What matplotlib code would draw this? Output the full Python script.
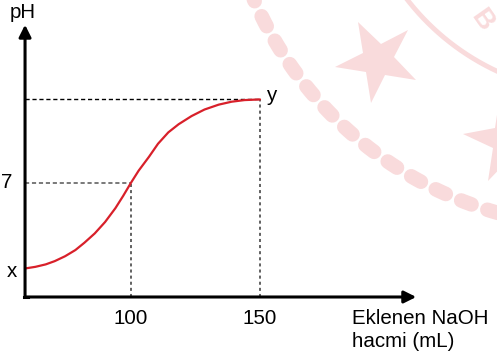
import numpy as np
import matplotlib
matplotlib.use("Agg")
import matplotlib.pyplot as plt
from matplotlib.markers import MarkerStyle
from matplotlib.transforms import Affine2D

plt.rcParams['font.family'] = ['Liberation Sans', 'DejaVu Sans']
plt.rcParams['lines.scale_dashes'] = False

# titration curve
naoh_ml = [59, 63, 67, 70.5, 74.5, 78.5, 82, 86, 90, 94, 97, 100, 103, 107,
           110.5, 114.5, 118.5, 123.5, 128.5, 134, 139, 144, 150]
ph_vals = [1.75, 1.85, 2.0, 2.2, 2.5, 2.88, 3.33, 3.9, 4.6, 5.45, 6.2, 7.0, 7.75, 8.6,
           9.4, 10.1, 10.6, 11.1, 11.5, 11.8, 11.98, 12.08, 12.12]
x_ticks = [100, 150]
x_tick_labels = ['100', '150']
neutral_ph = 7
end_label = 'y'
start_label = 'x'

red = '#d8202a'
pink = '#f9dbdc'

fig = plt.figure(figsize=(4.97, 3.56), dpi=100)

# faint seal watermark in the background (pixel coordinates)
bg = fig.add_axes([0, 0, 1, 1])
bg.set_xlim(0, 497)
bg.set_ylim(356, 0)
bg.axis('off')
cx, cy = 600, -150
ang = np.linspace(np.radians(95), np.radians(178), 300)
bg.plot(cx + 377 * np.cos(ang), cy + 377 * np.sin(ang), color=pink, lw=10.5,
        dashes=(8, 12), dash_capstyle='round')
bg.plot(cx + 244 * np.cos(ang), cy + 244 * np.sin(ang), color=pink, lw=3.5)
for (sx, sy, rot, sz) in [(378, 60, 27, 62), (508, 140, 10, 66)]:
    m = MarkerStyle('*', transform=Affine2D().rotate_deg(rot))
    bg.plot(sx, sy, marker=m, markersize=sz, color=pink, markeredgewidth=0)
bg.text(482, 20, 'B', color=pink, fontsize=20, fontweight='bold',
        rotation=-55, ha='center', va='center')

ax = fig.add_axes([0, 0, 1, 1])
ax.patch.set_alpha(0)
ax.set_xlim(49.3, 241.8)
ax.set_ylim(-3.62, 18.22)
ax.axis('off')

x0 = naoh_ml[0]
top = ph_vals[-1]

# guide lines
ax.plot([x0, x_ticks[0]], [neutral_ph, neutral_ph], color='#555555', lw=1.1, dashes=(3, 2))
ax.plot([x_ticks[0], x_ticks[0]], [0, neutral_ph], color='#555555', lw=1.3, dashes=(2.2, 2.2))
ax.plot([x0, x_ticks[1]], [top, top], color='black', lw=1.0, dashes=(3, 2))
ax.plot([x_ticks[1], x_ticks[1]], [0, top], color='#555555', lw=1.3, dashes=(2.2, 2.2))

# curve
ax.plot(naoh_ml, ph_vals, color=red, lw=1.6, solid_capstyle='round',
        solid_joinstyle='round')

# axes with arrows
ax.annotate('', xy=(210.5, 0), xytext=(x0, 0),
            arrowprops=dict(arrowstyle='-|>', lw=2.2, color='black',
                            mutation_scale=18, shrinkA=0, shrinkB=0))
ax.annotate('', xy=(x0, 16.7), xytext=(x0, 0),
            arrowprops=dict(arrowstyle='-|>', lw=2.2, color='black',
                            mutation_scale=18, shrinkA=0, shrinkB=0))
ax.plot([x0 - 0.4, x0 + 1], [0, 0], color='black', lw=2.2, solid_capstyle='projecting')

fs = 14.8
ax.text(58.2, 17.45, 'pH', fontsize=fs, ha='center', va='center')
ax.text(52.0, neutral_ph, str(neutral_ph), fontsize=fs, ha='center', va='center')
ax.text(53.8, ph_vals[0] - 0.2, start_label, fontsize=fs, ha='center', va='center')
ax.text(154.7, top + 0.25, end_label, fontsize=fs, ha='center', va='center')
for xv, lab in zip(x_ticks, x_tick_labels):
    ax.text(xv, -1.29, lab, fontsize=fs, ha='center', va='center')
ax.text(185.7, -1.29, 'Eklenen NaOH', fontsize=fs, ha='left', va='center')
ax.text(185.7, -2.76, 'hacmi (mL)', fontsize=fs, ha='left', va='center')

fig.savefig('out.png', dpi=100)
